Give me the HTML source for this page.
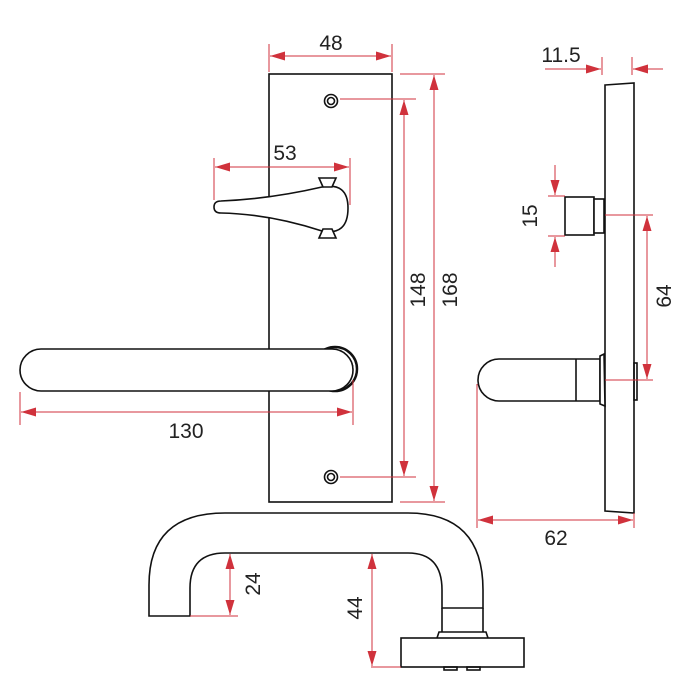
<!DOCTYPE html>
<html><head><style>html,body{margin:0;padding:0;background:#fff}svg{display:block}</style></head>
<body>
<svg width="700" height="700" viewBox="0 0 700 700" xmlns="http://www.w3.org/2000/svg">
<defs>
<marker id="a" viewBox="0 0 10 6" refX="10" refY="3" markerWidth="16" markerHeight="9" markerUnits="userSpaceOnUse" orient="auto-start-reverse"><path d="M0,0 L10,3 L0,6 Z" fill="#d0323c"/></marker>
</defs>
<g fill="none" stroke="#111" stroke-width="1.6">
<rect x="269" y="74" width="123" height="428" fill="#fff"/>
<circle cx="331" cy="101" r="6.5"/><circle cx="331" cy="101" r="3.5"/>
<circle cx="331" cy="477" r="6.5"/><circle cx="331" cy="477" r="3.5"/>
<path d="M221,201 Q214,201 214,207 Q214,213 221,213 Q270,214 322,231 Q348,236 348,208 Q348,182 322,187 Q270,199 221,201 Z" fill="#fff"/>
<path d="M323,187 L319,178 L336,178 L332,187 Z M323,229 L319,238 L336,238 L332,229 Z" fill="#fff"/>
<circle cx="335" cy="369" r="22" stroke-width="2.5" fill="#fff"/>
<circle cx="335" cy="369" r="18" stroke-width="1.2"/>
<path d="M41,349 L332,349 A21,21 0 0 1 332,391 L41,391 A21,21 0 0 1 41,349 Z" fill="#fff"/>
<path d="M605,85 L634,83 L634,513 L605,511 Z" fill="#fff"/>
<rect x="565" y="197" width="29" height="38" fill="#fff"/>
<rect x="594" y="199" width="10" height="34" fill="#fff"/>
<path d="M499,359 L600,359 L600,401 L499,401 A21,21 0 0 1 499,359 Z" fill="#fff"/>
<line x1="576" y1="359" x2="576" y2="401"/>
<path d="M600,356 L604,354 L605,406 L600,404 Z" fill="#fff"/>
<rect x="634" y="363" width="3" height="37"/>
<path d="M149,616 L149,585 Q149,513 225,513 L408,513 Q483,513 483,590 L483,608 L442,608 L442,590 Q442,553 408,553 L225,553 Q190,553 190,588 L190,616 Z" fill="#fff"/>
<path d="M442,608 L442,632 M483,608 L483,632"/>
<path d="M437,638 L439,632 L486,632 L488,638" fill="#fff"/>
<rect x="401" y="638" width="123" height="29" fill="#fff"/>
<rect x="444" y="667" width="13" height="3"/><rect x="467" y="667" width="13" height="3"/>
</g>
<g stroke="#d0323c" stroke-width="1" fill="none">
<line x1="269" y1="44" x2="269" y2="72"/><line x1="392" y1="44" x2="392" y2="72"/>
<line x1="270" y1="56" x2="391" y2="56" marker-start="url(#a)" marker-end="url(#a)"/>
<line x1="214" y1="158" x2="214" y2="200"/><line x1="350" y1="158" x2="350" y2="205"/>
<line x1="215" y1="167" x2="349" y2="167" marker-start="url(#a)" marker-end="url(#a)"/>
<line x1="340" y1="99" x2="416" y2="99"/><line x1="340" y1="477" x2="416" y2="477"/>
<line x1="404" y1="100" x2="404" y2="476" marker-start="url(#a)" marker-end="url(#a)"/>
<line x1="400" y1="74" x2="445" y2="74"/><line x1="400" y1="502" x2="445" y2="502"/>
<line x1="434" y1="75" x2="434" y2="501" marker-start="url(#a)" marker-end="url(#a)"/>
<line x1="20" y1="392" x2="20" y2="425"/><line x1="353" y1="380" x2="353" y2="425"/>
<line x1="21" y1="412" x2="352" y2="412" marker-start="url(#a)" marker-end="url(#a)"/>
<line x1="602" y1="57" x2="602" y2="75"/><line x1="632" y1="57" x2="632" y2="75"/>
<line x1="545" y1="69" x2="601" y2="69" marker-end="url(#a)"/>
<line x1="663" y1="69" x2="633" y2="69" marker-end="url(#a)"/>
<line x1="548" y1="196" x2="565" y2="196"/><line x1="548" y1="236" x2="565" y2="236"/>
<line x1="555" y1="165" x2="555" y2="195" marker-end="url(#a)"/>
<line x1="555" y1="267" x2="555" y2="237" marker-end="url(#a)"/>
<line x1="605" y1="215" x2="653" y2="215"/><line x1="605" y1="380" x2="653" y2="380"/>
<line x1="647" y1="216" x2="647" y2="379" marker-start="url(#a)" marker-end="url(#a)"/>
<line x1="477" y1="384" x2="477" y2="528"/><line x1="634" y1="513" x2="634" y2="528"/>
<line x1="478" y1="520" x2="633" y2="520" marker-start="url(#a)" marker-end="url(#a)"/>
<line x1="190" y1="616" x2="238" y2="616"/>
<line x1="230" y1="554" x2="230" y2="615" marker-start="url(#a)" marker-end="url(#a)"/>
<line x1="371" y1="667" x2="401" y2="667"/>
<line x1="372" y1="554" x2="372" y2="666" marker-start="url(#a)" marker-end="url(#a)"/>
</g>
<g font-family="'Liberation Sans', sans-serif" font-size="21" fill="#222" text-anchor="middle">
<text x="331" y="50">48</text>
<text x="285" y="160">53</text>
<text x="186" y="438">130</text>
<text x="561" y="62">11.5</text>
<text x="556" y="545">62</text>
<text transform="translate(425,290) rotate(-90)">148</text>
<text transform="translate(457,290) rotate(-90)">168</text>
<text transform="translate(537,216) rotate(-90)">15</text>
<text transform="translate(671,296) rotate(-90)">64</text>
<text transform="translate(260,584) rotate(-90)">24</text>
<text transform="translate(362,608) rotate(-90)">44</text>
</g>
</svg>
</body></html>
